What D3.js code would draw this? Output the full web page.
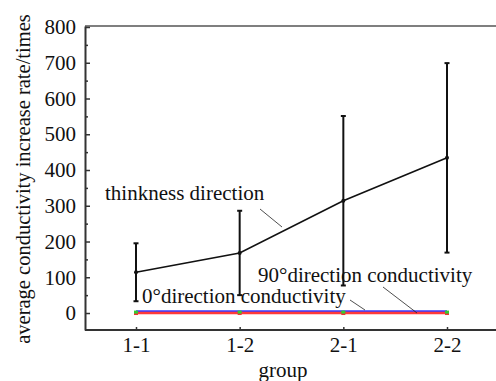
<!DOCTYPE html>
<html><head><meta charset="utf-8">
<script src="https://cdn.jsdelivr.net/npm/d3@7"></script>
<style>body{margin:0;background:#fff}svg{display:block}</style>
</head><body>
<svg id="c" width="496" height="381"></svg>
<script>
const groups = ["1-1","1-2","2-1","2-2"];
const thicknessMean = [114, 168, 314, 434];
const thicknessErr = [81, 118, 237, 265];
const deg90 = [4, 4, 4, 4];
const deg0 = [0, 0, 0, 0];
const yTicks = [0,100,200,300,400,500,600,700,800];
const yMinorTicks = [50,150,250,350,450,550,650,750];

const svg = d3.select("#c");
const FF = '"Liberation Serif", "Times New Roman", serif';
const L = 85, R = 496, T = 26, B = 330;
const x = d3.scalePoint().domain(groups).range([136, 447]);
const y = d3.scaleLinear().domain([-47.5, 802.8]).range([B, T]);
const fs = 21;

// frame
svg.append("line").attr("x1",L).attr("x2",R).attr("y1",T).attr("y2",T).attr("stroke","#555").attr("stroke-width",1.5);
svg.append("line").attr("x1",L).attr("x2",R).attr("y1",B).attr("y2",B).attr("stroke","#333").attr("stroke-width",2);

// y axis
const ya = svg.append("g").attr("transform",`translate(${L},0)`)
  .call(d3.axisLeft(y).tickValues(yTicks).tickSizeInner(-5).tickSizeOuter(0).tickPadding(9));
ya.select(".domain").attr("stroke","#333").attr("stroke-width",2);
ya.selectAll(".tick line").attr("stroke","#333").attr("stroke-width",1.5);
ya.selectAll("text").attr("fill","#111").style("font-family",FF).style("font-size",fs+"px");
const ym = svg.append("g").attr("transform",`translate(${L},0)`)
  .call(d3.axisLeft(y).tickValues(yMinorTicks).tickSizeInner(-3).tickSizeOuter(0).tickFormat(""));
ym.select(".domain").remove();
ym.selectAll(".tick line").attr("stroke","#333").attr("stroke-width",1.5);

// x axis
const xa = svg.append("g").attr("transform",`translate(0,${B})`)
  .call(d3.axisBottom(x).tickSizeInner(-3).tickSizeOuter(0).tickPadding(7));
xa.select(".domain").remove();
xa.selectAll(".tick line").attr("stroke","#333").attr("stroke-width",1.5);
xa.selectAll("text").attr("fill","#111").style("font-family",FF).style("font-size",fs+"px");

// axis titles
svg.append("text").attr("x",283).attr("y",377).attr("text-anchor","middle")
  .style("font-family",FF).style("font-size",fs+"px").attr("fill","#111").text("group");
svg.append("text").attr("transform",`translate(30,179) rotate(-90)`).attr("text-anchor","middle")
  .style("font-family",FF).style("font-size","20.5px").attr("fill","#111").text("average conductivity increase rate/times");

// 0 and 90 degree lines
const line = d3.line().x((d,i)=>x(groups[i])).y(d=>y(d));
svg.append("path").datum(deg90).attr("d",line).attr("fill","none").attr("stroke","#3a3aff").attr("stroke-width",2.5);
svg.append("path").datum(deg0).attr("d",line).attr("fill","none").attr("stroke","#ff3a3a").attr("stroke-width",2.5);
svg.selectAll(".g0").data(deg0).enter().append("rect")
  .attr("x",(d,i)=>x(groups[i])-2).attr("y",d=>y(d)-2).attr("width",4).attr("height",4).attr("fill","#ee3333");
svg.selectAll(".g9").data(deg90).enter().append("rect")
  .attr("x",(d,i)=>x(groups[i])-2).attr("y",d=>y(d)-1).attr("width",4).attr("height",3).attr("fill","#33cc33");

// thickness line with error bars
svg.append("path").datum(thicknessMean).attr("d",line).attr("fill","none").attr("stroke","#111").attr("stroke-width",1.6);
const eb = svg.selectAll(".eb").data(thicknessMean).enter().append("g");
eb.append("line").attr("x1",(d,i)=>x(groups[i])).attr("x2",(d,i)=>x(groups[i]))
  .attr("y1",(d,i)=>y(d+thicknessErr[i])).attr("y2",(d,i)=>y(d-thicknessErr[i])).attr("stroke","#111").attr("stroke-width",2);
eb.append("line").attr("x1",(d,i)=>x(groups[i])-2.5).attr("x2",(d,i)=>x(groups[i])+2.5)
  .attr("y1",(d,i)=>y(d+thicknessErr[i])).attr("y2",(d,i)=>y(d+thicknessErr[i])).attr("stroke","#111").attr("stroke-width",2);
eb.append("line").attr("x1",(d,i)=>x(groups[i])-2.5).attr("x2",(d,i)=>x(groups[i])+2.5)
  .attr("y1",(d,i)=>y(d-thicknessErr[i])).attr("y2",(d,i)=>y(d-thicknessErr[i])).attr("stroke","#111").attr("stroke-width",2);
eb.append("circle").attr("cx",(d,i)=>x(groups[i])).attr("cy",d=>y(d)).attr("r",2).attr("fill","#111");

// annotations
function ann(text, tx, ty, x1, y1, x2, y2){
  svg.append("text").attr("x",tx).attr("y",ty).style("font-family",FF).style("font-size",fs+"px").attr("fill","#111").text(text);
  svg.append("line").attr("x1",x1).attr("y1",y1).attr("x2",x2).attr("y2",y2).attr("stroke","#222").attr("stroke-width",0.8);
}
ann("thinkness direction", 105, 200, 260, 209, 282, 227);
ann("90°direction conductivity", 258, 282, 383, 287, 417, 313);
ann("0°direction conductivity", 142, 303, 350, 300, 365, 310);
</script>
</body></html>
